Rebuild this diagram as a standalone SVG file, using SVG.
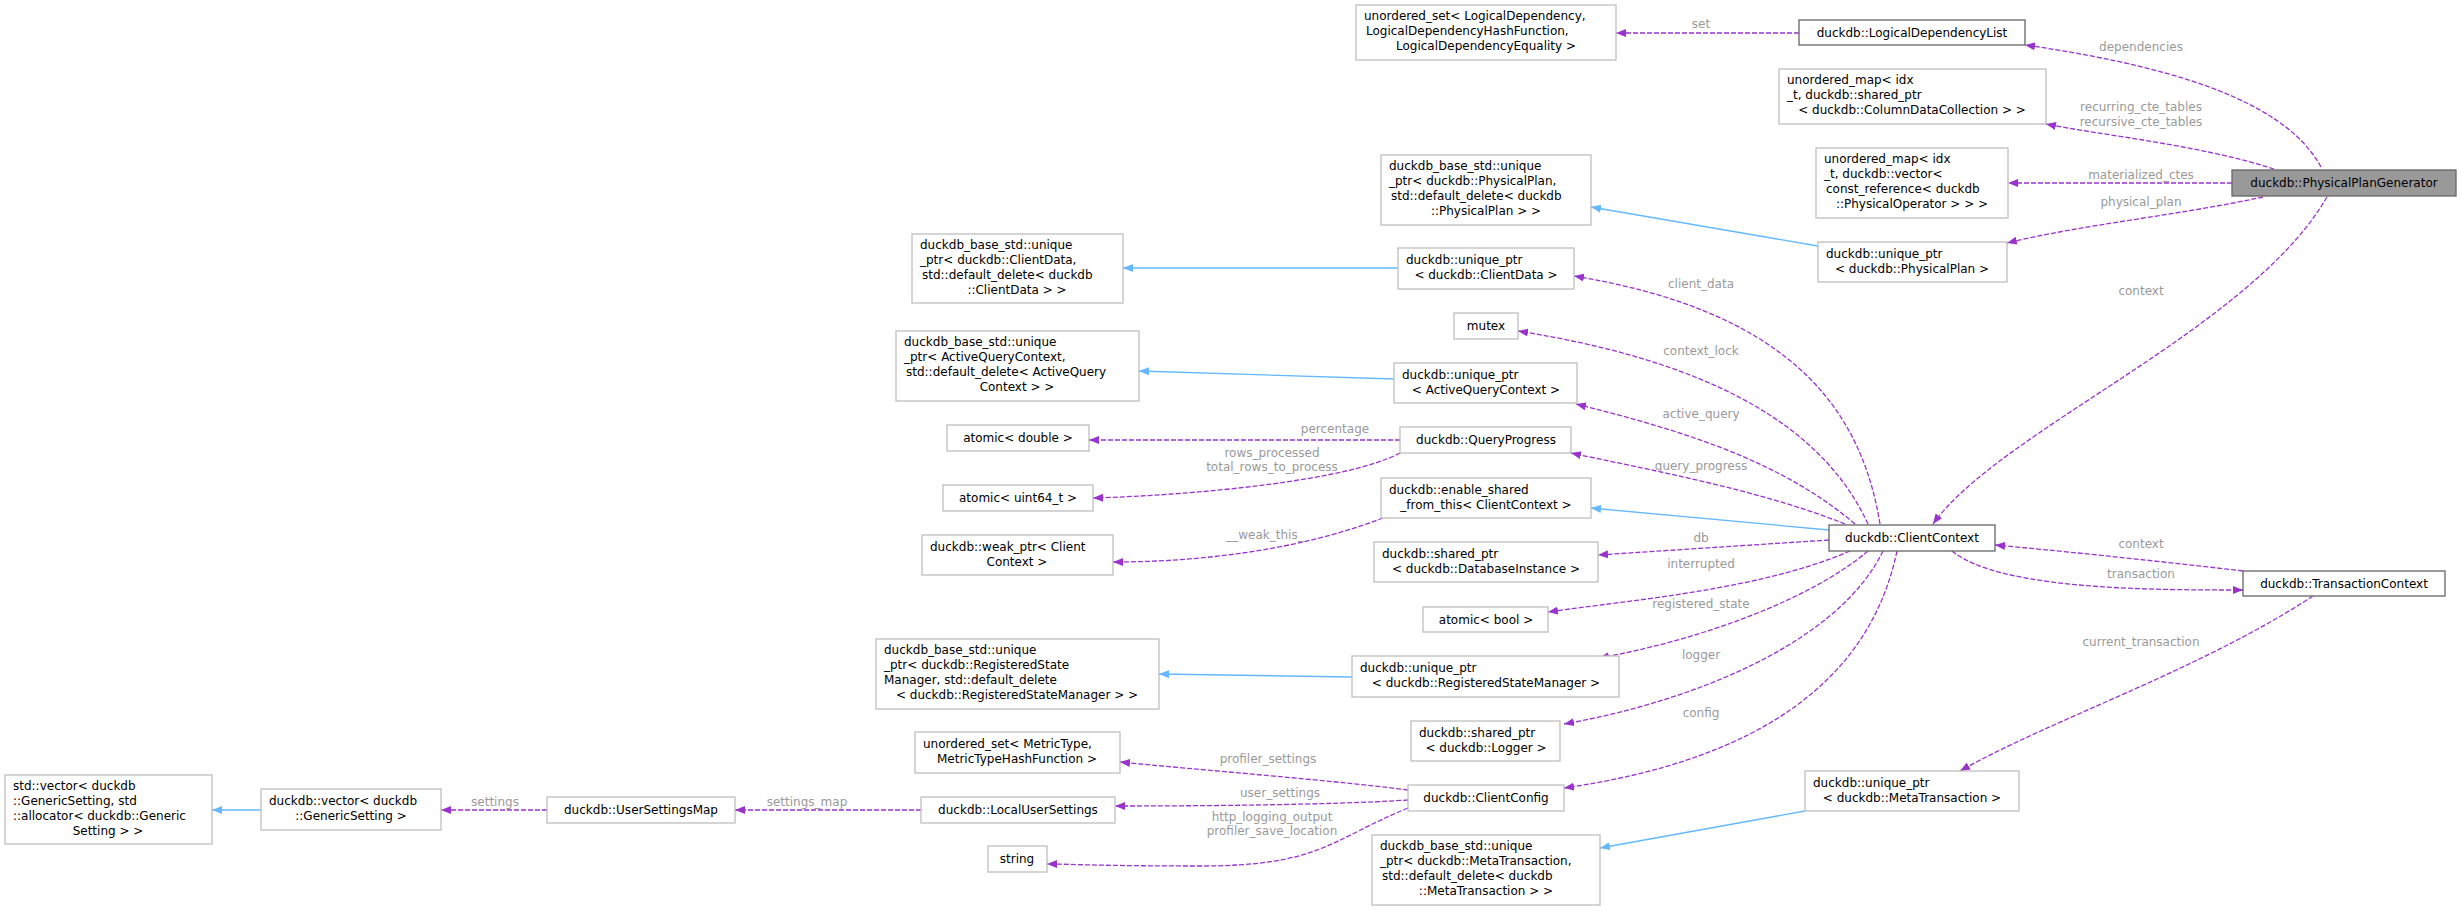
<svg xmlns="http://www.w3.org/2000/svg" width="2461" height="910" viewBox="0 0 2461 910">
<style>
text{font-family:"DejaVu Sans",sans-serif;font-size:12px;fill:#000}
.n rect{fill:#fff;stroke:#bfbfbf;stroke-width:1.3}
.d rect{stroke:#666}
.lbl{fill:#9a9a9a;text-anchor:middle}
.m{text-anchor:middle}
.e{fill:none;stroke:#9a32cd;stroke-width:1.3;stroke-dasharray:5,2}
.i{fill:none;stroke:#63b8ff;stroke-width:1.3}
</style>
<defs>
<marker id="ap" markerWidth="11" markerHeight="8" refX="10" refY="4" orient="auto" markerUnits="userSpaceOnUse"><path d="M0,0 L10,4 L0,8 z" fill="#9a32cd"/></marker>
<marker id="ab" markerWidth="11" markerHeight="8" refX="10" refY="4" orient="auto" markerUnits="userSpaceOnUse"><path d="M0,0 L10,4 L0,8 z" fill="#63b8ff"/></marker>
</defs>
<g id="connectors">
<path class="e" marker-end="url(#ap)" d="M2321,167 C2290,110 2200,70 2025,45"/>
<path class="e" marker-end="url(#ap)" d="M2274,169 C2200,145 2100,135 2046,124"/>
<path class="e" marker-end="url(#ap)" d="M2232,183 L2008,183"/>
<path class="e" marker-end="url(#ap)" d="M2263,197 C2180,215 2080,225 2007,243"/>
<path class="e" marker-end="url(#ap)" d="M2327,197 C2250,330 2000,430 1933,524"/>
<path class="e" marker-end="url(#ap)" d="M1799,33 L1616,33"/>
<path class="i" marker-end="url(#ab)" d="M1818,246 L1591,207"/>
<path class="i" marker-end="url(#ab)" d="M1398,268 L1123,268"/>
<path class="i" marker-end="url(#ab)" d="M1394,379 L1139,371"/>
<path class="i" marker-end="url(#ab)" d="M1352,677 L1159,674"/>
<path class="e" marker-end="url(#ap)" d="M1880,524 C1860,400 1780,310 1574,276"/>
<path class="e" marker-end="url(#ap)" d="M1868,524 C1820,420 1700,360 1518,331"/>
<path class="e" marker-end="url(#ap)" d="M1855,524 C1780,460 1680,430 1576,404"/>
<path class="e" marker-end="url(#ap)" d="M1845,524 C1760,490 1650,470 1571,453"/>
<path class="i" marker-end="url(#ab)" d="M1829,530 L1591,508"/>
<path class="e" marker-end="url(#ap)" d="M1829,540 L1598,555"/>
<path class="e" marker-end="url(#ap)" d="M1850,551 C1760,590 1630,600 1548,612"/>
<path class="e" marker-end="url(#ap)" d="M1868,551 C1810,600 1700,640 1599,658"/>
<path class="e" marker-end="url(#ap)" d="M1883,551 C1840,640 1700,700 1564,724"/>
<path class="e" marker-end="url(#ap)" d="M1897,551 C1870,680 1760,760 1564,788"/>
<path class="e" marker-end="url(#ap)" d="M2243,571 C2150,560 2050,550 1995,545"/>
<path class="e" marker-end="url(#ap)" d="M1952,551 C2000,590 2150,590 2243,590"/>
<path class="e" marker-end="url(#ap)" d="M2313,596 C2200,670 2050,720 1960,771"/>
<path class="i" marker-end="url(#ab)" d="M1805,811 L1600,848"/>
<path class="e" marker-end="url(#ap)" d="M1400,440 L1089,440"/>
<path class="e" marker-end="url(#ap)" d="M1400,453 C1350,480 1200,495 1093,498"/>
<path class="e" marker-end="url(#ap)" d="M1383,518 C1300,550 1200,562 1113,562"/>
<path class="e" marker-end="url(#ap)" d="M1408,790 C1330,780 1200,770 1120,762"/>
<path class="e" marker-end="url(#ap)" d="M1408,800 C1330,805 1200,806 1115,806"/>
<path class="e" marker-end="url(#ap)" d="M1408,808 C1330,840 1320,866 1200,866 C1100,866 1070,864 1047,864"/>
<path class="e" marker-end="url(#ap)" d="M921,810 L735,810"/>
<path class="e" marker-end="url(#ap)" d="M547,810 L441,810"/>
<path class="i" marker-end="url(#ab)" d="M261,810 L212,810"/>
<text class="lbl" x="1701" y="28">set</text>
<text class="lbl" x="2141" y="51">dependencies</text>
<text class="lbl" x="2141" y="111">recurring_cte_tables</text>
<text class="lbl" x="2141" y="126">recursive_cte_tables</text>
<text class="lbl" x="2141" y="179">materialized_ctes</text>
<text class="lbl" x="2141" y="206">physical_plan</text>
<text class="lbl" x="2141" y="295">context</text>
<text class="lbl" x="1701" y="288">client_data</text>
<text class="lbl" x="1701" y="355">context_lock</text>
<text class="lbl" x="1701" y="418">active_query</text>
<text class="lbl" x="1701" y="470">query_progress</text>
<text class="lbl" x="1701" y="542">db</text>
<text class="lbl" x="1701" y="568">interrupted</text>
<text class="lbl" x="1701" y="608">registered_state</text>
<text class="lbl" x="1701" y="659">logger</text>
<text class="lbl" x="1701" y="717">config</text>
<text class="lbl" x="2141" y="548">context</text>
<text class="lbl" x="2141" y="578">transaction</text>
<text class="lbl" x="2141" y="646">current_transaction</text>
<text class="lbl" x="1335" y="433">percentage</text>
<text class="lbl" x="1272" y="457">rows_processed</text>
<text class="lbl" x="1272" y="471">total_rows_to_process</text>
<text class="lbl" x="1265" y="539">__weak_this_</text>
<text class="lbl" x="1268" y="763">profiler_settings</text>
<text class="lbl" x="1280" y="797">user_settings</text>
<text class="lbl" x="1272" y="821">http_logging_output</text>
<text class="lbl" x="1272" y="835">profiler_save_location</text>
<text class="lbl" x="807" y="806">settings_map</text>
<text class="lbl" x="495" y="806">settings</text>
</g>
<g id="PhysicalPlanGenerator" class="n"><rect x="2232" y="170" width="224" height="26" style="fill:#999;stroke:#666"/><text class="m" x="2344" y="187">duckdb::PhysicalPlanGenerator</text></g>
<g id="LogicalDependencyList" class="n d"><rect x="1799" y="20" width="226" height="25"/><text class="m" x="1912" y="37">duckdb::LogicalDependencyList</text></g>
<g id="unordered_set_LD" class="n"><rect x="1356" y="5" width="260" height="55"/><text x="1364" y="20">unordered_set&lt; LogicalDependency,</text><text x="1366" y="35">LogicalDependencyHashFunction,</text><text class="m" x="1486" y="50">LogicalDependencyEquality &gt;</text></g>
<g id="unordered_map_CDC" class="n"><rect x="1779" y="69" width="267" height="55"/><text x="1787" y="84">unordered_map&lt; idx</text><text x="1787" y="99">_t, duckdb::shared_ptr</text><text class="m" x="1912" y="114">&lt; duckdb::ColumnDataCollection &gt; &gt;</text></g>
<g id="unordered_map_vec" class="n"><rect x="1816" y="148" width="192" height="70"/><text x="1824" y="163">unordered_map&lt; idx</text><text x="1824" y="178">_t, duckdb::vector&lt;</text><text x="1826" y="193">const_reference&lt; duckdb</text><text class="m" x="1912" y="208">::PhysicalOperator &gt; &gt; &gt;</text></g>
<g id="base_PhysicalPlan" class="n"><rect x="1381" y="155" width="210" height="70"/><text x="1389" y="170">duckdb_base_std::unique</text><text x="1389" y="185">_ptr&lt; duckdb::PhysicalPlan,</text><text x="1391" y="200">std::default_delete&lt; duckdb</text><text class="m" x="1486" y="215">::PhysicalPlan &gt; &gt;</text></g>
<g id="uptr_PhysicalPlan" class="n"><rect x="1818" y="242" width="189" height="40"/><text x="1826" y="258">duckdb::unique_ptr</text><text class="m" x="1912" y="273">&lt; duckdb::PhysicalPlan &gt;</text></g>
<g id="base_ClientData" class="n"><rect x="912" y="234" width="211" height="69"/><text x="920" y="249">duckdb_base_std::unique</text><text x="920" y="264">_ptr&lt; duckdb::ClientData,</text><text x="922" y="279">std::default_delete&lt; duckdb</text><text class="m" x="1017" y="294">::ClientData &gt; &gt;</text></g>
<g id="uptr_ClientData" class="n"><rect x="1398" y="248" width="176" height="41"/><text x="1406" y="264">duckdb::unique_ptr</text><text class="m" x="1486" y="279">&lt; duckdb::ClientData &gt;</text></g>
<g id="mutex" class="n"><rect x="1454" y="313" width="64" height="26"/><text class="m" x="1486" y="330">mutex</text></g>
<g id="base_AQC" class="n"><rect x="896" y="331" width="243" height="70"/><text x="904" y="346">duckdb_base_std::unique</text><text x="904" y="361">_ptr&lt; ActiveQueryContext,</text><text x="906" y="376">std::default_delete&lt; ActiveQuery</text><text class="m" x="1017" y="391">Context &gt; &gt;</text></g>
<g id="uptr_AQC" class="n"><rect x="1394" y="363" width="183" height="40"/><text x="1402" y="379">duckdb::unique_ptr</text><text class="m" x="1486" y="394">&lt; ActiveQueryContext &gt;</text></g>
<g id="atomic_double" class="n"><rect x="947" y="425" width="142" height="26"/><text class="m" x="1018" y="442">atomic&lt; double &gt;</text></g>
<g id="QueryProgress" class="n"><rect x="1400" y="427" width="171" height="26"/><text class="m" x="1486" y="444">duckdb::QueryProgress</text></g>
<g id="atomic_uint64" class="n"><rect x="943" y="485" width="150" height="26"/><text class="m" x="1018" y="502">atomic&lt; uint64_t &gt;</text></g>
<g id="enable_shared" class="n"><rect x="1381" y="478" width="210" height="40"/><text x="1389" y="494">duckdb::enable_shared</text><text class="m" x="1486" y="509">_from_this&lt; ClientContext &gt;</text></g>
<g id="weak_ptr" class="n"><rect x="922" y="535" width="191" height="40"/><text x="930" y="551">duckdb::weak_ptr&lt; Client</text><text class="m" x="1017" y="566">Context &gt;</text></g>
<g id="ClientContext" class="n d"><rect x="1829" y="525" width="166" height="26"/><text class="m" x="1912" y="542">duckdb::ClientContext</text></g>
<g id="sptr_DB" class="n"><rect x="1374" y="542" width="224" height="40"/><text x="1382" y="558">duckdb::shared_ptr</text><text class="m" x="1486" y="573">&lt; duckdb::DatabaseInstance &gt;</text></g>
<g id="atomic_bool" class="n"><rect x="1423" y="607" width="125" height="25"/><text class="m" x="1486" y="624">atomic&lt; bool &gt;</text></g>
<g id="base_RSM" class="n"><rect x="876" y="639" width="283" height="70"/><text x="884" y="654">duckdb_base_std::unique</text><text x="884" y="669">_ptr&lt; duckdb::RegisteredState</text><text x="884" y="684">Manager, std::default_delete</text><text class="m" x="1017" y="699">&lt; duckdb::RegisteredStateManager &gt; &gt;</text></g>
<g id="uptr_RSM" class="n"><rect x="1352" y="656" width="267" height="41"/><text x="1360" y="672">duckdb::unique_ptr</text><text class="m" x="1486" y="687">&lt; duckdb::RegisteredStateManager &gt;</text></g>
<g id="sptr_Logger" class="n"><rect x="1411" y="721" width="149" height="40"/><text x="1419" y="737">duckdb::shared_ptr</text><text class="m" x="1486" y="752">&lt; duckdb::Logger &gt;</text></g>
<g id="uset_Metric" class="n"><rect x="915" y="732" width="205" height="41"/><text x="923" y="748">unordered_set&lt; MetricType,</text><text class="m" x="1017" y="763">MetricTypeHashFunction &gt;</text></g>
<g id="ClientConfig" class="n"><rect x="1408" y="785" width="156" height="26"/><text class="m" x="1486" y="802">duckdb::ClientConfig</text></g>
<g id="std_vector" class="n"><rect x="5" y="775" width="207" height="69"/><text x="13" y="790">std::vector&lt; duckdb</text><text x="13" y="805">::GenericSetting, std</text><text x="13" y="820">::allocator&lt; duckdb::Generic</text><text class="m" x="108" y="835">Setting &gt; &gt;</text></g>
<g id="duckdb_vector" class="n"><rect x="261" y="789" width="180" height="41"/><text x="269" y="805">duckdb::vector&lt; duckdb</text><text class="m" x="351" y="820">::GenericSetting &gt;</text></g>
<g id="UserSettingsMap" class="n"><rect x="547" y="797" width="188" height="26"/><text class="m" x="641" y="814">duckdb::UserSettingsMap</text></g>
<g id="LocalUserSettings" class="n"><rect x="921" y="797" width="194" height="26"/><text class="m" x="1018" y="814">duckdb::LocalUserSettings</text></g>
<g id="string" class="n"><rect x="988" y="846" width="59" height="26"/><text class="m" x="1017" y="863">string</text></g>
<g id="TransactionContext" class="n d"><rect x="2243" y="571" width="202" height="25"/><text class="m" x="2344" y="588">duckdb::TransactionContext</text></g>
<g id="uptr_MT" class="n"><rect x="1805" y="771" width="214" height="40"/><text x="1813" y="787">duckdb::unique_ptr</text><text class="m" x="1912" y="802">&lt; duckdb::MetaTransaction &gt;</text></g>
<g id="base_MT" class="n"><rect x="1372" y="835" width="228" height="70"/><text x="1380" y="850">duckdb_base_std::unique</text><text x="1380" y="865">_ptr&lt; duckdb::MetaTransaction,</text><text x="1382" y="880">std::default_delete&lt; duckdb</text><text class="m" x="1486" y="895">::MetaTransaction &gt; &gt;</text></g>
</svg>
